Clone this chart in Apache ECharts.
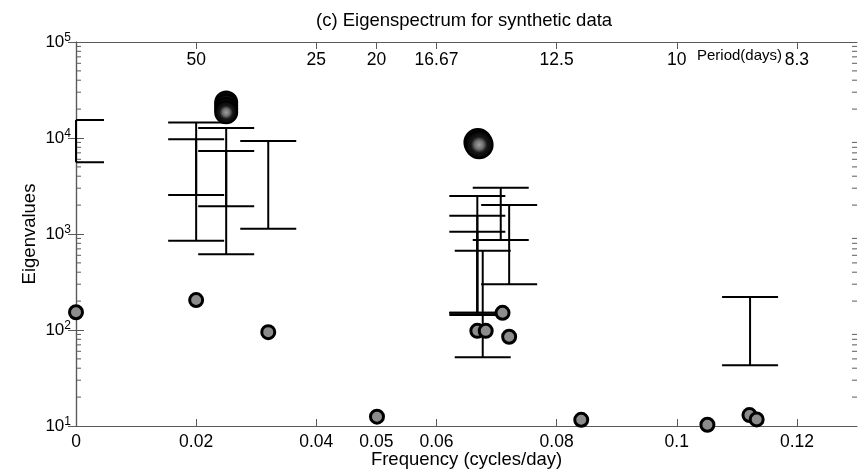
<!DOCTYPE html>
<html><head><meta charset="utf-8">
<script src="https://cdn.jsdelivr.net/npm/echarts@6/dist/echarts.min.js"></script>
<style>html,body{margin:0;padding:0;background:#fff}#c{width:865px;height:469px}</style>
</head><body><div id="c"></div>
<script>
const FONT = '"Liberation Sans", Arial, Helvetica, sans-serif';

// gray eigenvalue circles
const circleFreq = [0, 0.02, 0.032, 0.0501, 0.0668, 0.0682, 0.071, 0.0721, 0.0841, 0.1051, 0.1121, 0.1133];
const circleEig  = [153, 205, 95, 12.5, 98, 98, 151, 85, 11.6, 10.3, 13.0, 11.7];

// dark (significant) circles
const darkFreq = [0.025, 0.025, 0.025, 0.025, 0.0669, 0.0671];
const darkEig  = [23500, 21800, 20000, 18500, 9000, 8500];

// error bars (frequency, lower, upper)
const errFreq = [0, 0.02, 0.02, 0.025, 0.025, 0.032, 0.0668, 0.0668, 0.0668, 0.0677, 0.0707, 0.0721, 0.1122];
const errLow  = [5590, 850, 2550, 617, 1945, 1135, 151, 143, 151, 52, 866, 299, 42.9];
const errHigh = [15400, 14500, 9700, 12700, 7330, 9310, 2488, 1552, 1057, 670, 3035, 2005, 221];

// axes
const xLabelValues = [0, 0.02, 0.04, 0.05, 0.06, 0.08, 0.1, 0.12];
const xTickValues  = [0, 0.02, 0.04, 0.06, 0.08, 0.1, 0.12];
const periodFreq   = [0.02, 0.04, 0.05, 0.06, 0.08, 0.1, 0.12];
const periodLabels = ['50', '25', '20', '16.67', '12.5', '10', '8.3'];
const yDecades     = [1, 2, 3, 4, 5];

const minorTicks = [];
yDecades.slice(0, -1).forEach(d => { for (let m = 2; m <= 9; m++) minorTicks.push(m * Math.pow(10, d)); });

const AX = '#5a5a5a';
const chart = echarts.init(document.getElementById('c'));

const option = {
  animation: false,
  backgroundColor: '#fff',
  textStyle: { fontFamily: FONT },
  title: {
    text: '(c) Eigenspectrum for synthetic data',
    left: 311, top: 6,
    textStyle: { fontFamily: FONT, fontSize: 18.5, fontWeight: 'normal', color: '#000' }
  },
  graphic: [{
    type: 'text', left: 697, top: 48,
    style: { text: 'Period(days)', font: '15px ' + FONT, fill: '#000' }
  }],
  grid: { left: 76, right: 8, top: 42, bottom: 43, containLabel: false, outerBoundsMode: 'none' },
  xAxis: [{
    type: 'value', position: 'bottom', min: 0, max: 0.13,
    name: 'Frequency (cycles/day)', nameLocation: 'middle', nameGap: 24, nameMoveOverlap: false,
    nameTextStyle: { fontFamily: FONT, fontSize: 18.5, color: '#000' },
    axisLine: { show: true, lineStyle: { color: AX, width: 1.2 } },
    axisTick: { show: true, inside: true, length: 7, customValues: xTickValues, lineStyle: { color: AX } },
    axisLabel: { show: true, customValues: xLabelValues, margin: 7, fontFamily: FONT, fontSize: 17.5, color: '#000',
      formatter: v => String(v) },
    splitLine: { show: false }
  }, {
    type: 'value', position: 'top', min: 0, max: 0.13,
    axisLine: { show: true, lineStyle: { color: AX, width: 1.2 } },
    axisTick: { show: true, inside: true, length: 7, customValues: periodFreq, lineStyle: { color: AX } },
    axisLabel: { show: true, inside: true, margin: 9, customValues: periodFreq, fontFamily: FONT, fontSize: 17.5, color: '#000',
      formatter: v => { const i = periodFreq.findIndex(f => Math.abs(f - v) < 1e-9); return i >= 0 ? periodLabels[i] : ''; } },
    splitLine: { show: false }
  }],
  yAxis: [{
    type: 'log', logBase: 10, min: 10, max: 100000, position: 'left',
    name: 'Eigenvalues', nameLocation: 'middle', nameGap: 37, nameRotate: 90, nameMoveOverlap: false,
    nameTextStyle: { fontFamily: FONT, fontSize: 18.5, color: '#000' },
    axisLine: { show: true, lineStyle: { color: AX, width: 1.2 } },
    axisTick: { show: true, inside: true, length: 8, lineStyle: { color: AX } },
    axisLabel: { show: true, margin: 5, color: '#000',
      formatter: v => '{b|10}{s|' + Math.round(Math.log10(v)) + '}',
      rich: {
        b: { fontFamily: FONT, fontSize: 17, color: '#000' },
        s: { fontFamily: FONT, fontSize: 12, color: '#000', verticalAlign: 'top', padding: [0, 0, 8, 0] }
      } },
    splitLine: { show: false }
  }, {
    type: 'log', logBase: 10, min: 10, max: 100000, position: 'right',
    axisLine: { show: true, lineStyle: { color: AX, width: 1.2 } },
    axisTick: { show: true, inside: true, length: 8, lineStyle: { color: AX } },
    axisLabel: { show: false },
    splitLine: { show: false }
  }],
  series: [{
    type: 'custom', name: 'minorTicks', silent: true, clip: false, z: 1,
    xAxisIndex: 0, yAxisIndex: 0,
    data: minorTicks.map(v => [0, v]),
    encode: { x: 0, y: 1 },
    renderItem: (params, api) => {
      const y = api.coord([0, api.value(1)])[1];
      const cs = params.coordSys;
      const st = { stroke: AX, lineWidth: 1 };
      return { type: 'group', children: [
        { type: 'line', shape: { x1: cs.x, y1: y, x2: cs.x + 5, y2: y }, style: st },
        { type: 'line', shape: { x1: cs.x + cs.width, y1: y, x2: cs.x + cs.width - 5, y2: y }, style: st }
      ] };
    }
  }, {
    type: 'custom', name: 'errorbars', silent: true, clip: false, z: 2,
    xAxisIndex: 0, yAxisIndex: 0,
    data: errFreq.map((f, i) => [f, errLow[i], errHigh[i]]),
    encode: { x: 0, y: [1, 2] },
    renderItem: (params, api) => {
      const x = api.value(0);
      const pHi = api.coord([x, api.value(2)]);
      const pLo = api.coord([x, api.value(1)]);
      const cs = params.coordSys;
      const hw = 28;
      const xl = Math.max(cs.x, pHi[0] - hw), xr = Math.min(cs.x + cs.width, pHi[0] + hw);
      const st = { stroke: '#000', lineWidth: 2 };
      return { type: 'group', children: [
        { type: 'line', shape: { x1: pHi[0], y1: pHi[1], x2: pLo[0], y2: pLo[1] }, style: st },
        { type: 'line', shape: { x1: xl, y1: pHi[1], x2: xr, y2: pHi[1] }, style: st },
        { type: 'line', shape: { x1: xl, y1: pLo[1], x2: xr, y2: pLo[1] }, style: st }
      ] };
    }
  }, {
    type: 'scatter', name: 'eigen', clip: false, z: 3,
    xAxisIndex: 0, yAxisIndex: 0,
    symbol: 'circle', symbolSize: 13,
    itemStyle: { color: '#8c8c8c', borderColor: '#000', borderWidth: 3, opacity: 1 },
    data: circleFreq.map((f, i) => [f, circleEig[i]])
  }, {
    type: 'scatter', name: 'significant', clip: false, z: 4,
    xAxisIndex: 0, yAxisIndex: 0,
    symbol: 'circle',
    symbolSize: (v, p) => p.dataIndex < 4 ? 22 : 27,
    itemStyle: {
      color: { type: 'radial', x: 0.5, y: 0.5, r: 0.5, colorStops: [
        { offset: 0, color: '#a0a0a0' }, { offset: 0.3, color: '#707070' },
        { offset: 0.55, color: '#181818' }, { offset: 1, color: '#000' }] },
      borderColor: '#000', borderWidth: 2, opacity: 1
    },
    data: darkFreq.map((f, i) => [f, darkEig[i]])
  }]
};
chart.setOption(option);
</script>
</body></html>
